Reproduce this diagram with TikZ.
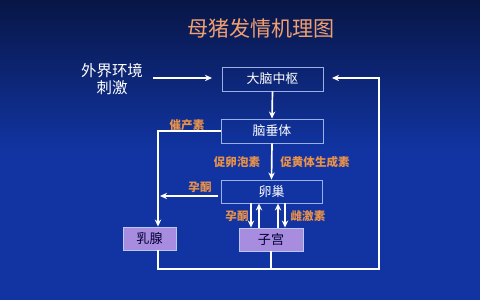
\documentclass[tikz,border=0pt]{standalone}
\usepackage{fontspec}
\setmainfont{Noto Sans CJK SC}
\usetikzlibrary{arrows.meta}
\definecolor{bgtop}{HTML}{081646}
\definecolor{bgmid}{HTML}{1134A2}
\definecolor{lbl}{HTML}{E8914A}
\definecolor{ttl}{HTML}{F0A070}
\definecolor{purp}{HTML}{A88CDF}
\definecolor{boxline}{HTML}{9AB0E8}
\begin{document}
\begin{tikzpicture}[x=0.025cm,y=-0.025cm,
  wbox/.style={draw=boxline,line width=0.6pt,text=white,inner sep=0pt,font=\fontsize{9.2}{10}\selectfont},
  pbox/.style={draw=boxline!70!white,line width=0.6pt,fill=purp,text=black!80!blue,inner sep=0pt,minimum height=0.575cm,font=\fontsize{9.3}{10}\selectfont},
  lab/.style={text=lbl,font=\bfseries\fontsize{8.2}{9}\selectfont,inner sep=0pt},
  conn/.style={white,line width=1.2pt},
  arr/.style={conn,-{Stealth[length=5pt,width=4.5pt]}}]
\shade[top color=bgtop,bottom color=bgmid] (0,0) rectangle (480,150);
\fill[bgmid] (0,150) rectangle (480,300);
\useasboundingbox (0,0) rectangle (480,300);
\node[text=ttl,font=\fontsize{15}{17}\selectfont,inner sep=0pt] (title) at (261,28) {母猪发情机理图};
\node[text=white,align=center,font=\fontsize{11}{12.2}\selectfont,inner sep=0pt] (ext) at (112,79) {外界环境\\刺激};
\node[wbox,minimum width=2.525cm,minimum height=0.6cm] (brain) at (272.5,79) {大脑中枢};
\node[wbox,minimum width=2.55cm,minimum height=0.6cm] (pit) at (272,131) {脑垂体};
\node[wbox,minimum width=2.525cm,minimum height=0.575cm] (ov) at (271.5,191.5) {卵巢};
\node[pbox,minimum width=1.325cm] (mam) at (149.5,238.5) {乳腺};
\node[pbox,minimum width=1.6cm] (ut) at (271,239.5) {子宫};
% labels
\node[lab] (l1) at (187,125) {催产素};
\node[lab] (l2) at (237,162) {促卵泡素};
\node[lab] (l3) at (315,162) {促黄体生成素};
\node[lab] (l4) at (200,187) {孕酮};
\node[lab] (l5) at (237,216) {孕酮};
\node[lab] (l6) at (308,216) {雌激素};
% coordinates
\coordinate (ea) at (153,78);
\coordinate (eb) at (212,78);
\coordinate (rt) at (379,78);
\coordinate (rb) at (379,269);
\coordinate (lb) at (158,269);
\coordinate (lt) at (158,131);
\coordinate (ub) at (270,269);
\coordinate (be) at (332,78);
\coordinate (oa) at (218,196);
\coordinate (ob) at (160,196);
% connectors
\draw[arr] (ea) -- (eb);
\draw[arr] (brain.south) -- (pit.north);
\draw[arr] (pit.south) -- (ov.north);
\draw[arr] (pit.west) -- (lt) -- (mam.north -| lt);
\draw[arr] (oa) -- (ob);
\draw[arr] (mam.south -| lb) -- (lb) -- (rb) -- (rt) -- (be);
\draw[conn] (ut.south) -- (ut.south |- ub);
\draw[arr] (ov.south -| 251,0) -- (ut.north -| 251,0);
\draw[arr] (ut.north -| 259,0) -- (ov.south -| 259,0);
\draw[arr] (ut.north -| 278,0) -- (ov.south -| 278,0);
\draw[arr] (ov.south -| 285,0) -- (ut.north -| 285,0);
\end{tikzpicture}
\end{document}
